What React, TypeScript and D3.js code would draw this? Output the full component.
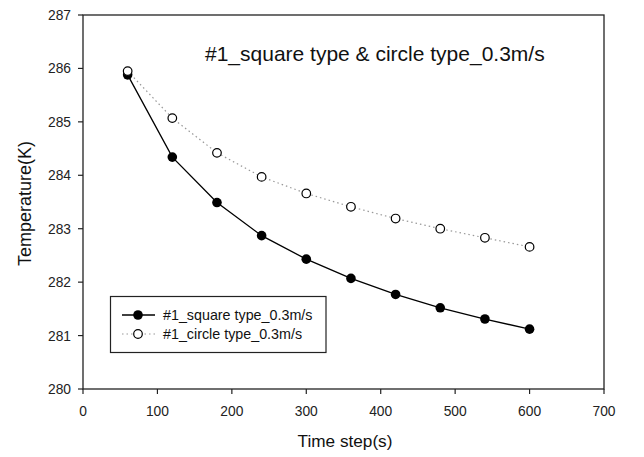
import React from "react";
import * as d3 from "d3";

const timeSteps = [60, 120, 180, 240, 300, 360, 420, 480, 540, 600];
const squareType = [285.88, 284.34, 283.49, 282.87, 282.43, 282.07, 281.77, 281.52, 281.31, 281.12];
const circleType = [285.95, 285.07, 284.42, 283.97, 283.66, 283.41, 283.19, 283.0, 282.83, 282.66];
const xTicks = [0, 100, 200, 300, 400, 500, 600, 700];
const yTicks = [280, 281, 282, 283, 284, 285, 286, 287];
const seriesNames = ["#1_square type_0.3m/s", "#1_circle type_0.3m/s"];
const title = "#1_square type & circle type_0.3m/s";

const W = 644, H = 457;
const L = 83, R = 604, T = 15, B = 389;
const font = "Arial, 'Liberation Sans', sans-serif";

export default function App() {
  const x = d3.scaleLinear().domain([0, 700]).range([L, R]);
  const y = d3.scaleLinear().domain([280, 287]).range([B, T]);
  const line = d3.line<number>().x((_, i) => x(timeSteps[i])).y((d) => y(d));
  return (
    <svg width={W} height={H} style={{ position: "absolute", left: 0, top: 0, background: "#fff" }} fontFamily={font}>
      <rect x={0} y={0} width={W} height={H} fill="#fff" />
      <rect x={L} y={T} width={R - L} height={B - T} fill="none" stroke="#222" strokeWidth={1.3} />
      {yTicks.map((t) => (
        <g key={"y" + t}>
          <line x1={L - 5} x2={L} y1={y(t)} y2={y(t)} stroke="#222" strokeWidth={1.2} />
          <text x={71} y={y(t) + 5} textAnchor="end" fontSize={13.8} fill="#222">{t}</text>
        </g>
      ))}
      {xTicks.map((t) => (
        <g key={"x" + t}>
          <line x1={x(t)} x2={x(t)} y1={B} y2={B + 5} stroke="#222" strokeWidth={1.2} />
          <text x={x(t)} y={415.5} textAnchor="middle" fontSize={13.8} fill="#222">{t}</text>
        </g>
      ))}
      <text x={345} y={447} textAnchor="middle" fontSize={17.2} fill="#111">Time step(s)</text>
      <text transform={`translate(31,${203.5}) rotate(-90)`} textAnchor="middle" fontSize={18} fill="#111">Temperature(K)</text>
      <text x={205} y={60.5} fontSize={21} fill="#111">{title}</text>

      <path d={line(squareType) || ""} fill="none" stroke="#000" strokeWidth={1.3} />
      <path d={line(circleType) || ""} fill="none" stroke="#999" strokeWidth={1.2} strokeDasharray="1.5,3" />
      {squareType.map((v, i) => (
        <circle key={"s" + i} cx={x(timeSteps[i])} cy={y(v)} r={4.8} fill="#000" />
      ))}
      {circleType.map((v, i) => (
        <circle key={"c" + i} cx={x(timeSteps[i])} cy={y(v)} r={4.3} fill="#fff" stroke="#000" strokeWidth={1.2} />
      ))}

      <rect x={110.5} y={296.5} width={215.5} height={56} fill="#fff" stroke="#222" strokeWidth={1.2} />
      <line x1={122} x2={155} y1={315} y2={315} stroke="#000" strokeWidth={1.3} />
      <circle cx={138} cy={315} r={4.8} fill="#000" />
      <text x={163} y={320} fontSize={14.3} fill="#111">{seriesNames[0]}</text>
      <line x1={122} x2={155} y1={334} y2={334} stroke="#999" strokeWidth={1.2} strokeDasharray="1.5,3" />
      <circle cx={138} cy={334} r={4.3} fill="#fff" stroke="#000" strokeWidth={1.2} />
      <text x={163} y={338.5} fontSize={14.3} fill="#111">{seriesNames[1]}</text>
    </svg>
  );
}
